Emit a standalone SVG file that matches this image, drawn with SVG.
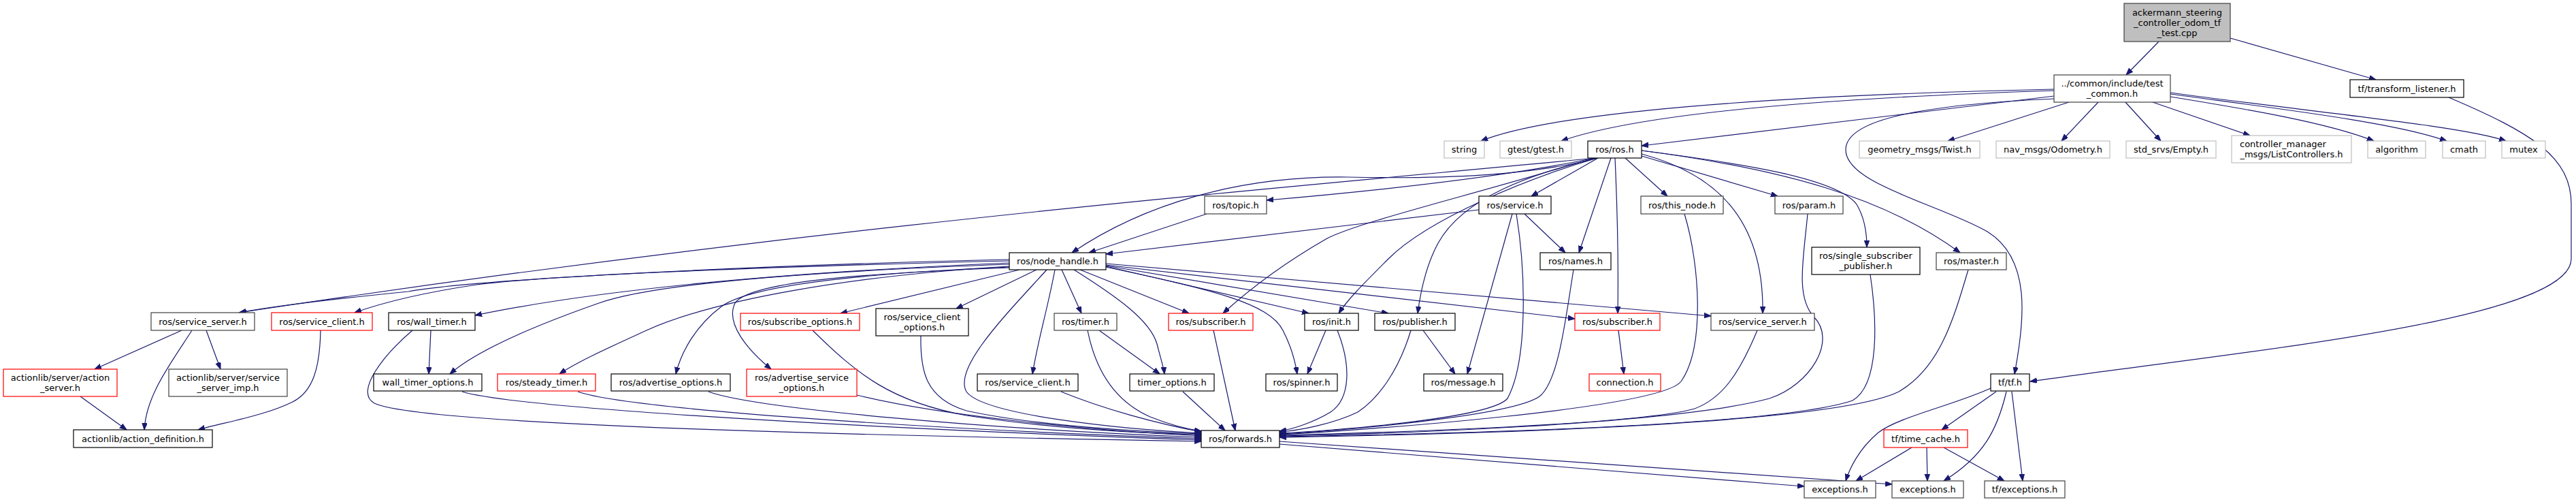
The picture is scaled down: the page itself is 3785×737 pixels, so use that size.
<svg xmlns="http://www.w3.org/2000/svg" width="3785" height="737" viewBox="0 0 3785 737">
<style>
rect{fill:#fff;stroke:#000;stroke-width:1.2}
rect.g{stroke:#bfbfbf}
rect.r{stroke:#ff0000}
rect.d{stroke:#404040}
rect.root{fill:#bfbfbf;stroke:#404040}
text{font-family:"DejaVu Sans","Liberation Sans",sans-serif;font-size:13px;text-anchor:middle;fill:#000}
#edges path{fill:none;stroke:#191970;stroke-width:1.2;marker-end:url(#ah)}
</style>
<defs>
<marker id="ah" markerUnits="userSpaceOnUse" markerWidth="12" markerHeight="9" refX="10" refY="3.75" orient="auto">
<path d="M0,0 L10,3.75 L0,7.5 z" fill="#191970" stroke="#191970" stroke-width="1"/>
</marker>
</defs>
<rect x="0" y="0" width="3785" height="737" style="fill:#fff;stroke:none"/>
<g id="edges">
<path d="M3172,61 L3124,110"/>
<path d="M3277,56 L3491,117"/>
<path d="M3018,131 C2600,140 2280,165 2176,207"/>
<path d="M3018,133 C2650,145 2400,170 2294,207"/>
<path d="M3018,141 L2412,214"/>
<path d="M3040,150 L2862,207"/>
<path d="M3083,150 L3029,207"/>
<path d="M3123,150 L3175,207"/>
<path d="M3163,150 L3306,199"/>
<path d="M3189,142 C3300,160 3420,180 3488,207"/>
<path d="M3189,138 C3350,160 3520,180 3595,207"/>
<path d="M3189,136 C3400,165 3620,185 3682,207"/>
<path d="M3018,145 C2800,155 2712,180 2712,220 C2712,270 2850,300 2920,340 C2985,380 2975,470 2960,549"/>
<path d="M3598,143 C3720,195 3778,230 3778,300 L3778,380 C3778,470 3300,515 2983,560"/>
<path d="M2347,232 C2250,258 2120,263 1980,260 C1820,258 1680,300 1575,371"/>
<path d="M2345,232 C1900,275 1200,330 351,459"/>
<path d="M2343,232 C2200,262 2000,282 1861,294"/>
<path d="M1773,314 L1600,371"/>
<path d="M2173,308 L1625,373"/>
<path d="M2348,232 L2250,288"/>
<path d="M2367,232 L2320,371"/>
<path d="M2240,314 L2300,371"/>
<path d="M2373,232 C2377,320 2378,400 2377,460"/>
<path d="M2388,232 L2450,288"/>
<path d="M2412,229 L2612,288"/>
<path d="M2412,226 C2520,255 2592,320 2590,460"/>
<path d="M2412,221 C2560,240 2700,262 2728,300 C2740,320 2743,345 2743,363"/>
<path d="M2412,221 C2620,248 2770,290 2880,371"/>
<path d="M2343,232 C2150,290 2000,325 1950,350 C1880,390 1830,430 1797,460"/>
<path d="M2347,232 C2250,260 2100,320 2040,380 C2000,420 1980,440 1967,460"/>
<path d="M2347,232 C2250,255 2150,290 2113,357 C2095,390 2087,430 2083,460"/>
<path d="M2222,314 L2156,549"/>
<path d="M2228,314 C2242,400 2245,530 2215,585 C2190,615 1950,633 1880,636"/>
<path d="M2312,396 C2300,470 2290,560 2262,582 C2220,612 1950,634 1880,637"/>
<path d="M2475,314 C2498,390 2505,510 2470,560 C2440,600 2000,632 1880,638"/>
<path d="M2582,485 C2555,550 2530,585 2490,600 C2400,625 2000,636 1880,639"/>
<path d="M2656,314 C2650,380 2638,435 2665,465 C2700,500 2660,565 2600,585 C2450,625 2000,638 1880,640"/>
<path d="M2748,403 C2758,470 2762,565 2722,588 C2600,630 2000,639 1880,641"/>
<path d="M2892,396 C2870,470 2850,540 2790,575 C2680,630 2000,640 1880,642"/>
<path d="M1948,485 L1921,549"/>
<path d="M1965,485 C1985,535 1985,585 1955,605 C1930,620 1900,630 1880,633"/>
<path d="M2091,485 L2138,549"/>
<path d="M2073,485 C2055,545 2025,585 1995,605 C1960,622 1910,632 1880,634"/>
<path d="M2378,485 L2386,549"/>
<path d="M2933,575 L2853,631"/>
<path d="M2925,570 C2870,595 2790,612 2760,635 C2730,660 2717,690 2712,706"/>
<path d="M2948,575 C2935,630 2915,670 2856,706"/>
<path d="M2956,575 L2972,706"/>
<path d="M2809,657 L2727,706"/>
<path d="M2831,657 L2832,706"/>
<path d="M2856,657 L2945,706"/>
<path d="M1880,652 C2150,675 2400,695 2651,714"/>
<path d="M1880,648 C2200,670 2500,690 2780,711"/>
<path d="M1483,381 C1100,390 700,410 600,428 C480,440 400,450 352,459"/>
<path d="M1483,383 C1100,392 800,405 700,418 C620,430 560,445 521,459"/>
<path d="M1483,386 C1150,400 880,425 698,463"/>
<path d="M1483,388 C1150,400 950,420 880,445 C780,480 700,515 661,549"/>
<path d="M1483,391 C1250,405 1050,440 950,485 C900,508 850,530 822,549"/>
<path d="M1483,392 C1250,402 1100,420 1060,450 C1020,480 1000,520 993,549"/>
<path d="M1483,393 C1250,402 1100,415 1080,445 C1065,475 1100,515 1133,542"/>
<path d="M1498,396 L1235,460"/>
<path d="M1523,396 L1405,453"/>
<path d="M1538,396 C1480,460 1400,540 1420,575 C1445,610 1650,630 1765,636"/>
<path d="M1550,396 C1540,450 1525,500 1517,549"/>
<path d="M1560,396 L1589,460"/>
<path d="M1578,396 C1640,435 1690,470 1700,505 C1705,525 1710,540 1711,549"/>
<path d="M1587,396 L1747,460"/>
<path d="M1625,392 C1780,425 1865,445 1885,485 C1898,510 1903,530 1906,549"/>
<path d="M1625,391 L1923,460"/>
<path d="M1625,390 L2040,460"/>
<path d="M1625,389 L2314,468"/>
<path d="M1625,387 L2514,464"/>
<path d="M606,485 C565,520 520,575 550,592 C620,625 1300,640 1765,648"/>
<path d="M679,575 C760,600 1300,630 1765,646"/>
<path d="M849,575 C920,600 1350,630 1765,644"/>
<path d="M1041,575 C1110,600 1450,630 1765,642"/>
<path d="M1259,580 C1380,610 1600,632 1765,640"/>
<path d="M1194,485 C1260,550 1310,590 1420,610 C1550,630 1680,636 1765,638"/>
<path d="M1353,493 C1352,545 1360,585 1420,603 C1520,625 1680,634 1765,637"/>
<path d="M1559,575 C1620,600 1700,622 1765,634"/>
<path d="M1598,485 C1610,545 1640,590 1690,612 C1720,624 1745,630 1765,633"/>
<path d="M1615,485 L1704,549"/>
<path d="M1738,575 L1800,632"/>
<path d="M1783,485 L1815,632"/>
<path d="M267,485 L139,542"/>
<path d="M282,485 C250,535 215,580 212,631"/>
<path d="M303,485 L324,542"/>
<path d="M471,485 C470,540 460,575 430,590 C390,610 330,620 291,631"/>
<path d="M118,582 L186,631"/>
<path d="M633,485 L630,549"/>
</g>
<g id="n1"><rect class="root" x="3121" y="5" width="156" height="56"/><text x="3199" y="22.5">ackermann_steering</text><text x="3199" y="37.5">_controller_odom_tf</text><text x="3199" y="52.5">_test.cpp</text></g>
<g id="n2"><rect class="d" x="3018" y="110" width="171" height="40"/><text x="3103.5" y="127">../common/include/test</text><text x="3103.5" y="142">_common.h</text></g>
<g id="n3"><rect x="3453" y="117" width="167" height="26"/><text x="3536.5" y="134.5">tf/transform_listener.h</text></g>
<g id="n4"><rect class="g" x="2122" y="207" width="59" height="25"/><text x="2151.5" y="224">string</text></g>
<g id="n5"><rect class="g" x="2204" y="207" width="105" height="25"/><text x="2256.5" y="224">gtest/gtest.h</text></g>
<g id="n6"><rect x="2333" y="207" width="79" height="25"/><text x="2372.5" y="224">ros/ros.h</text></g>
<g id="n7"><rect class="g" x="2732" y="207" width="177" height="25"/><text x="2820.5" y="224">geometry_msgs/Twist.h</text></g>
<g id="n8"><rect class="g" x="2933" y="207" width="167" height="25"/><text x="3016.5" y="224">nav_msgs/Odometry.h</text></g>
<g id="n9"><rect class="g" x="3124" y="207" width="132" height="25"/><text x="3190" y="224">std_srvs/Empty.h</text></g>
<g id="n10"><rect class="g" x="3279" y="199" width="176" height="40"/><text x="3354.5" y="216">controller_manager</text><text x="3367" y="231">_msgs/ListControllers.h</text></g>
<g id="n11"><rect class="g" x="3479" y="207" width="85" height="25"/><text x="3521.5" y="224">algorithm</text></g>
<g id="n12"><rect class="g" x="3589" y="207" width="63" height="25"/><text x="3620.5" y="224">cmath</text></g>
<g id="n13"><rect class="g" x="3676" y="207" width="64" height="25"/><text x="3708" y="224">mutex</text></g>
<g id="n14"><rect x="2173" y="288" width="106" height="26"/><text x="2226" y="305.5">ros/service.h</text></g>
<g id="n15"><rect class="d" x="2411" y="288" width="121" height="26"/><text x="2471.5" y="305.5">ros/this_node.h</text></g>
<g id="n16"><rect class="d" x="2608" y="288" width="100" height="26"/><text x="2658" y="305.5">ros/param.h</text></g>
<g id="n17"><rect class="d" x="1770" y="288" width="91" height="26"/><text x="1815.5" y="305.5">ros/topic.h</text></g>
<g id="n18"><rect x="1483" y="371" width="142" height="25"/><text x="1554" y="388">ros/node_handle.h</text></g>
<g id="n19"><rect x="2263" y="371" width="104" height="25"/><text x="2315" y="388">ros/names.h</text></g>
<g id="n20"><rect x="2662" y="363" width="159" height="40"/><text x="2741.5" y="380">ros/single_subscriber</text><text x="2741.5" y="395">_publisher.h</text></g>
<g id="n21"><rect class="d" x="2845" y="371" width="103" height="25"/><text x="2896.5" y="388">ros/master.h</text></g>
<g id="n22"><rect class="d" x="222" y="459" width="152" height="26"/><text x="298" y="476.5">ros/service_server.h</text></g>
<g id="n23"><rect class="r" x="399" y="459" width="148" height="26"/><text x="473" y="476.5">ros/service_client.h</text></g>
<g id="n24"><rect x="571" y="459" width="127" height="26"/><text x="634.5" y="476.5">ros/wall_timer.h</text></g>
<g id="n25"><rect class="r" x="1088" y="460" width="175" height="25"/><text x="1175.5" y="477">ros/subscribe_options.h</text></g>
<g id="n26"><rect x="1287" y="453" width="136" height="40"/><text x="1355" y="470">ros/service_client</text><text x="1355" y="485">_options.h</text></g>
<g id="n27"><rect class="d" x="1549" y="460" width="92" height="25"/><text x="1595" y="477">ros/timer.h</text></g>
<g id="n28"><rect class="r" x="1717" y="460" width="124" height="25"/><text x="1779" y="477">ros/subscriber.h</text></g>
<g id="n29"><rect x="1917" y="460" width="79" height="25"/><text x="1956.5" y="477">ros/init.h</text></g>
<g id="n30"><rect x="2020" y="460" width="118" height="25"/><text x="2079" y="477">ros/publisher.h</text></g>
<g id="n31"><rect class="r" x="2314" y="460" width="125" height="25"/><text x="2376.5" y="477">ros/subscriber.h</text></g>
<g id="n32"><rect class="d" x="2514" y="460" width="152" height="25"/><text x="2590" y="477">ros/service_server.h</text></g>
<g id="n33"><rect class="r" x="5" y="542" width="167" height="40"/><text x="88.5" y="559">actionlib/server/action</text><text x="88.5" y="574">_server.h</text></g>
<g id="n34"><rect class="d" x="248" y="542" width="174" height="40"/><text x="335" y="559">actionlib/server/service</text><text x="335" y="574">_server_imp.h</text></g>
<g id="n35"><rect x="549" y="549" width="159" height="25"/><text x="628.5" y="566">wall_timer_options.h</text></g>
<g id="n36"><rect class="r" x="731" y="549" width="144" height="25"/><text x="803" y="566">ros/steady_timer.h</text></g>
<g id="n37"><rect x="898" y="549" width="175" height="25"/><text x="985.5" y="566">ros/advertise_options.h</text></g>
<g id="n38"><rect class="r" x="1097" y="542" width="162" height="40"/><text x="1178" y="559">ros/advertise_service</text><text x="1178" y="574">_options.h</text></g>
<g id="n39"><rect x="1436" y="549" width="148" height="25"/><text x="1510" y="566">ros/service_client.h</text></g>
<g id="n40"><rect x="1660" y="549" width="124" height="25"/><text x="1722" y="566">timer_options.h</text></g>
<g id="n41"><rect x="1860" y="549" width="105" height="25"/><text x="1912.5" y="566">ros/spinner.h</text></g>
<g id="n42"><rect x="2092" y="549" width="116" height="25"/><text x="2150" y="566">ros/message.h</text></g>
<g id="n43"><rect class="r" x="2335" y="549" width="105" height="25"/><text x="2387.5" y="566">connection.h</text></g>
<g id="n44"><rect x="2925" y="549" width="57" height="25"/><text x="2953.5" y="566">tf/tf.h</text></g>
<g id="n45"><rect x="108" y="631" width="204" height="26"/><text x="210" y="648.5">actionlib/action_definition.h</text></g>
<g id="n46"><rect x="1765" y="632" width="115" height="25"/><text x="1822.5" y="649">ros/forwards.h</text></g>
<g id="n47"><rect class="r" x="2768" y="631" width="123" height="26"/><text x="2829.5" y="648.5">tf/time_cache.h</text></g>
<g id="n48"><rect class="d" x="2651" y="706" width="105" height="25"/><text x="2703.5" y="723">exceptions.h</text></g>
<g id="n49"><rect class="d" x="2780" y="706" width="105" height="25"/><text x="2832.5" y="723">exceptions.h</text></g>
<g id="n50"><rect class="d" x="2916" y="706" width="118" height="25"/><text x="2975" y="723">tf/exceptions.h</text></g>
</svg>
